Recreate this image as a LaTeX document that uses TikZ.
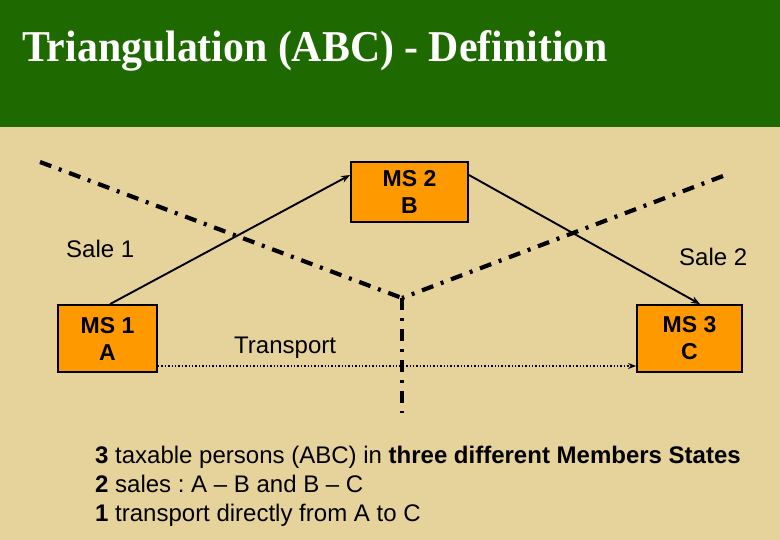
\documentclass[tikz,border=0pt]{standalone}
\usepackage{fontspec}
\setmainfont{Liberation Sans}
\newfontfamily\titlefont[FakeStretch=0.95]{Liberation Serif}
\usetikzlibrary{arrows.meta}
\definecolor{tanbg}{RGB}{230,211,156}
\definecolor{titlegreen}{RGB}{31,106,0}
\definecolor{boxorange}{RGB}{255,153,0}
\frenchspacing
\tikzset{
  msbox/.style={draw=black, line width=1.8pt, fill=boxorange, minimum width=#1, inner sep=0pt,
    align=center, font=\fontsize{23}{27}\selectfont\bfseries},
  salearrow/.style={line width=1.9pt, -{Stealth[length=9pt,width=7pt]}},
  transarrow/.style={line width=1.4pt, dotted, -{Stealth[length=8pt,width=6pt]}},
  border/.style={line width=4.2pt, dash pattern=on 12pt off 8pt on 3pt off 8pt},
  lbl/.style={anchor=base west, inner sep=0pt, font=\fontsize{24}{29}\selectfont}
}
\begin{document}
\begin{tikzpicture}[x=1pt,y=-1pt]
\useasboundingbox (0,0) rectangle (780,540);
\fill[tanbg] (0,0) rectangle (780,540);
\fill[titlegreen] (0,0) rectangle (780,127);
\node[anchor=base west, inner sep=0pt, text=white, font=\titlefont\bfseries\fontsize{44}{50}\selectfont] (title) at (22,62) {Triangulation (ABC) - Definition};

% border lines
\coordinate (dl) at (40,162);
\coordinate (dr) at (723,176);
\coordinate (dj) at (402,298);
\coordinate (dv) at (402,413);
\draw[border] (dl) -- (dj);
\draw[border] (dr) -- (dj);
\draw[border] (dj) -- (dv);

% boxes
\node[msbox=117pt, minimum height=60pt] (ms2) at (409.5,192) {MS 2\\B};
\node[msbox=99pt, minimum height=67pt] (ms1) at (107.5,338.5) {MS 1\\A};
\node[msbox=105pt, minimum height=67pt] (ms3) at (689.5,338.5) {MS 3\\C};

% connectors
\draw[salearrow] ([xshift=2.5pt]ms1.north) -- ([yshift=17pt]ms2.west);
\draw[salearrow] ([yshift=17pt]ms2.east) -- ([xshift=10.5pt]ms3.north);
\draw[transarrow] ([yshift=-27.5pt]ms1.east) -- ([yshift=-27.5pt]ms3.west);

% labels
\node[lbl] (sale1) at (66,258) {Sale 1};
\node[lbl] (sale2) at (679,266) {Sale 2};
\node[lbl] (transport) at (234,354) {Transport};

\node[lbl] (t1) at (95,463) {\textbf{3} taxable persons (ABC) in \textbf{three different Members States}};
\node[lbl] (t2) at (95,492) {\textbf{2} sales : A -- B and B -- C};
\node[lbl] (t3) at (95,521) {\textbf{1} transport directly from A to C};
\end{tikzpicture}
\end{document}
